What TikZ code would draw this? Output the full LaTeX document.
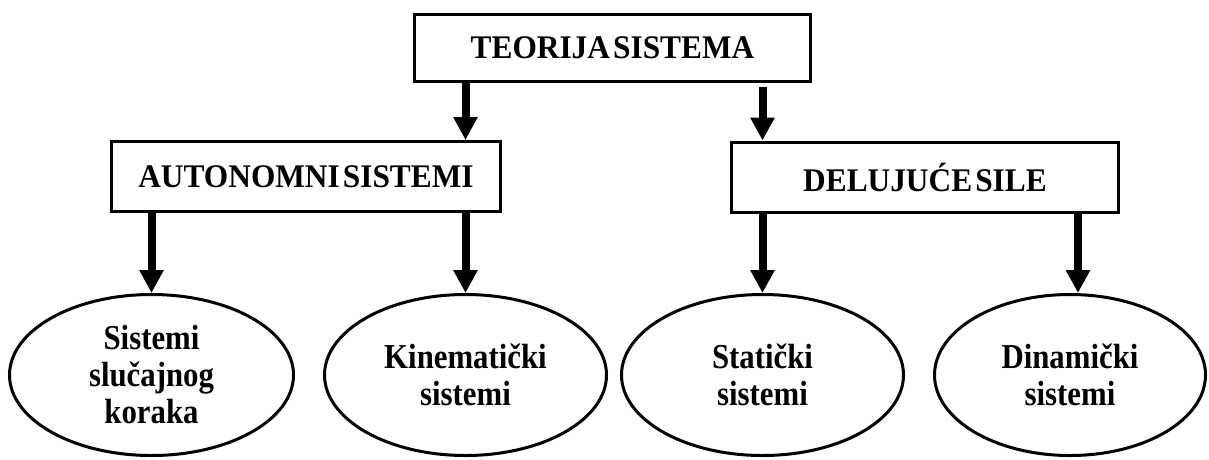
\documentclass[tikz,border=0pt]{standalone}
\usepackage{fontspec}
\setmainfont{Liberation Serif}
\newfontfamily\boxfont{Liberation Serif}[FakeStretch=0.95,WordSpace=0.4]
\newfontfamily\ellfont{Liberation Serif}[FakeStretch=0.88]
\usetikzlibrary{arrows.meta,shapes.geometric,calc}
\begin{document}
\begin{tikzpicture}[x=1pt,y=-1pt,
  boxnode/.style={draw,line width=3pt,inner sep=0pt,
    font=\boxfont\bfseries\fontsize{33}{36}\selectfont},
  ellnode/.style={draw,ellipse,line width=3pt,inner sep=0pt,
    minimum height=161pt,align=center,
    font=\ellfont\bfseries\fontsize{35}{37}\selectfont},
  arr/.style={line width=8pt,-{Triangle[width=23pt,length=23pt]}}]
\useasboundingbox (0,0) rectangle (1209,459);
\fill[white] (0,0) rectangle (1209,459);

\node[boxnode,minimum width=396pt,minimum height=67pt] (top) at (612.5,48) {TEORIJA SISTEMA};
\node[boxnode,minimum width=389pt,minimum height=70pt] (auto) at (306,176.5) {AUTONOMNI SISTEMI};
\node[boxnode,minimum width=387pt,minimum height=70pt] (delu) at (925,177) {DELUJUĆE SILE};

\node[ellnode,minimum width=284pt] (e1) at (151.5,375) {Sistemi\\slučajnog\\koraka};
\node[ellnode,minimum width=282pt] (e2) at (465.5,375) {Kinematički\\sistemi};
\node[ellnode,minimum width=282pt] (e3) at (762.5,375) {Statički\\sistemi};
\node[ellnode,minimum width=271pt] (e4) at (1070,375) {Dinamički\\sistemi};

\draw[arr] (top.south -| e2.north) -- (auto.north -| e2.north);
\draw[arr,shorten <=4pt] (top.south -| e3.north) -- (delu.north -| e3.north);
\draw[arr] (auto.south -| e1.north) -- (e1.north);
\draw[arr] (auto.south -| e2.north) -- (e2.north);
\draw[arr] (delu.south -| e3.north) -- (e3.north);
\draw[arr] ($(delu.south -| e4.north)+(8,0)$) -- ($(e4.north)+(8,0)$);
\end{tikzpicture}
\end{document}
